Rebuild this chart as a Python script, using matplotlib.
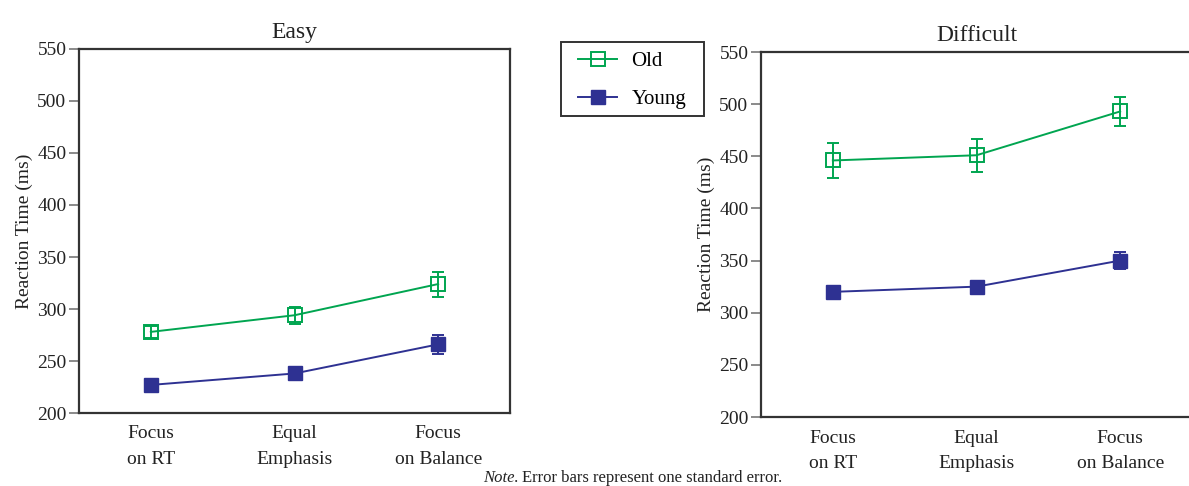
import numpy as np
import matplotlib
matplotlib.use("Agg")
import matplotlib.pyplot as plt
from matplotlib.lines import Line2D
from matplotlib.patches import Rectangle

plt.rcParams['font.family'] = ['Liberation Serif', 'DejaVu Serif']

conditions = ['Focus\non RT', 'Equal\nEmphasis', 'Focus\non Balance']

# Easy task
easy_old = [278, 294, 324]
easy_old_se = [6, 8, 12]
easy_young = [227, 238, 266]
easy_young_se = [3, 3, 9]

# Difficult task
diff_old = [446, 451, 493]
diff_old_se = [17, 16, 14]
diff_young = [320, 325, 350]
diff_young_se = [3, 3, 8]

green = '#00a550'
blue = '#2e3192'
W, H = 1189, 486

fig = plt.figure(figsize=(W / 100, H / 100), dpi=100)

def px_axes(x0, y0, x1, y1):
    # pixel box -> figure fraction
    return fig.add_axes([x0 / W, 1 - y1 / H, (x1 - x0) / W, (y1 - y0) / H])

ax1 = px_axes(79, 49, 510, 413)
ax2 = px_axes(761, 52, 1192, 417)

def draw(ax, old, old_se, young, young_se, title):
    x = np.arange(len(conditions))
    ax.errorbar(x, old, yerr=old_se, color=green, lw=1.4, marker='s', ms=10,
                mfc='none', mec=green, mew=1.4, capsize=4.5, capthick=1.4, zorder=3)
    ax.errorbar(x, young, yerr=young_se, color=blue, lw=1.4, marker='s', ms=10,
                mfc=blue, mec=blue, capsize=4.5, capthick=1.4, zorder=3)
    ax.set_xlim(-0.5, 2.5)
    ax.set_ylim(200, 550)
    ax.set_yticks(np.arange(200, 551, 50))
    ax.set_xticks(x)
    ax.set_xticklabels(conditions, fontsize=14, linespacing=1.65)
    ax.tick_params(axis='x', length=0, pad=9, colors='#222')
    ax.tick_params(axis='y', length=7, width=1.2, color='#777', labelsize=14,
                   labelcolor='#222', pad=2)
    for s in ax.spines.values():
        s.set_linewidth(1.6)
        s.set_color('#333')
    ax.set_ylabel('Reaction Time (ms)', fontsize=14, color='#222', labelpad=3)
    ax.set_title(title, fontsize=17, color='#222', pad=8)

draw(ax1, easy_old, easy_old_se, easy_young, easy_young_se, 'Easy')
draw(ax2, diff_old, diff_old_se, diff_young, diff_young_se, 'Difficult')

handles = [
    Line2D([], [], color=green, lw=1.4, marker='s', ms=10, mfc='none', mec=green, mew=1.4),
    Line2D([], [], color=blue, lw=1.4, marker='s', ms=10, mfc=blue, mec=blue),
]
# legend without its own frame; box drawn separately to match the padding
fig.legend(handles, ['Old', 'Young'], loc='upper left',
           bbox_to_anchor=(569 / W, 1 - 42 / H), fontsize=15,
           frameon=False, handlelength=1.85, handletextpad=0.7,
           labelspacing=0.9, borderpad=0.45, borderaxespad=0)
fig.patches.append(Rectangle((561 / W, 1 - 116 / H), 143 / W, 74 / H,
                             transform=fig.transFigure, fill=False,
                             edgecolor='#333', linewidth=1.4))

fig.text(519 / W, 1 - 478 / H, 'Note.', style='italic', fontsize=12,
         ha='right', va='center', color='#222')
fig.text(522 / W, 1 - 478 / H, 'Error bars represent one standard error.',
         fontsize=12, ha='left', va='center', color='#222')

fig.savefig('out.png', dpi=100)
